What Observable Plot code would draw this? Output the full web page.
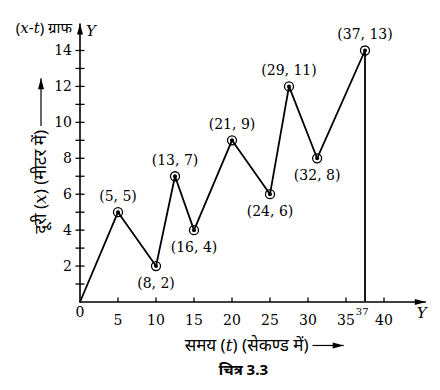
<!DOCTYPE html>
<html><head><meta charset="utf-8">
<script src="https://cdn.jsdelivr.net/npm/d3@7"></script>
<script src="https://cdn.jsdelivr.net/npm/@observablehq/plot@0.6"></script>
<style>body{margin:0;background:#fff}</style>
</head><body><div id="chart"></div>
<script>
// plotted positions (time t in s, distance x in m) and their printed labels
const tVals = [0, 5, 10, 12.5, 15, 20, 25, 27.5, 31.2, 37.5];
const xVals = [0, 5, 2, 7, 4, 9, 6, 12, 8, 14];
const pointLabels = ["", "(5, 5)", "(8, 2)", "(13, 7)", "(16, 4)", "(21, 9)", "(24, 6)", "(29, 11)", "(32, 8)", "(37, 13)"];
const yTicks = [1,2,3,4,5,6,7,8,9,10,11,12,13,14];
const yTickLabels = [2,4,6,8,10,12,14];
const xTicks = [5,10,15,20,25,30,35,40];
const xTickLabels = ["5","10","15","20","25","30","35","40"];
const extraXLabel = {t: 37, text: "37"};
const axisEnds = {t: 45.5, x: 15.5};
const titleText = "(x-t) ग्राफ";
const yAxisTitle = "दूरी (x) (मीटर में)";
const xAxisTitle = "समय (t) (सेकण्ड में)";
const captionText = "चित्र 3.3";
// decoration anchors in data units
const yTitleArrow = {t: -5.13, y1: 9.8, y2: 12.45};
const xTitleArrow = {y: -2.42, t1: 30.6, t2: 34.7};
const captionPos = {t: 21.5, y: -3.8};

const pts = tVals.map((t, i) => ({t, x: xVals[i], label: pointLabels[i]}));
const marked = pts.slice(1);
const above = marked.filter((d, i) => d.x > pts[i].x);
const below = marked.filter((d, i) => d.x <= pts[i].x);
const last = pts[pts.length - 1];

const serif = "'DejaVu Serif', serif";
const hindi = "'Noto Sans', 'DejaVu Sans', sans-serif";

// custom symbols (pixel sized)
const headUp = {draw(c){ c.moveTo(0,0); c.lineTo(3,11); c.lineTo(-3,11); c.closePath(); }};
const tickH = {draw(c){ c.moveTo(-4.5,0); c.lineTo(4.5,0); }};
const tickV = {draw(c){ c.moveTo(0,0); c.lineTo(0,-4.5); }};

const plot = Plot.plot({
  width: 440, height: 390,
  marginLeft: 79.5, marginRight: 56.5, marginTop: 50, marginBottom: 88.5,
  x: {domain: [0, 40], axis: null},
  y: {domain: [0, 14], axis: null},
  style: {background: "white", fontFamily: serif, fontSize: "14px", color: "black", overflow: "visible"},
  marks: [
    // axes
    Plot.link([{x1: 0, y1: 0, x2: axisEnds.t, y2: 0}, {x1: 0, y1: 0, x2: 0, y2: axisEnds.x}],
      {x1: "x1", y1: "y1", x2: "x2", y2: "y2", stroke: "black", strokeWidth: 1.6}),
    Plot.dot([{t: axisEnds.t, x: 0, r: 90}, {t: 0, x: axisEnds.x, r: 0}],
      {x: "t", y: "x", rotate: "r", symbol: headUp, fill: "black", stroke: "none", r: 5}),
    Plot.dot(yTicks, {x: 0, y: d => d, symbol: tickH, stroke: "black", strokeWidth: 1.3, fill: "none"}),
    Plot.dot(xTicks, {x: d => d, y: 0, symbol: tickV, stroke: "black", strokeWidth: 1.3, fill: "none"}),
    // tick labels
    Plot.text(yTickLabels, {x: 0, y: d => d, text: d => String(d), textAnchor: "end", dx: -8, fontSize: 14}),
    Plot.text(xTicks, {x: d => d, y: 0, text: (d, i) => xTickLabels[i], dy: 18.5, fontSize: 14}),
    Plot.text(["0"], {x: 0, y: 0, text: d => d, dy: 11, fontSize: 14}),
    Plot.text([extraXLabel], {x: "t", y: 0, text: "text", dy: 10, dx: 1, fontSize: 10}),
    Plot.text(["Y"], {x: 0, y: axisEnds.x, text: d => d, dx: 11, dy: 8, fontStyle: "italic", fontSize: 15}),
    Plot.text(["Y"], {x: axisEnds.t, y: 0, text: d => d, dx: -4, dy: 11, fontStyle: "italic", fontSize: 15}),
    Plot.text([titleText], {x: 0, y: axisEnds.x, text: d => d, textAnchor: "end", dx: -8, dy: 5, fontSize: 15, fontFamily: hindi}),
    // axis titles
    Plot.text([yAxisTitle], {x: yTitleArrow.t, y: yTitleArrow.y1, text: d => d, rotate: -90, textAnchor: "end", dy: 4, fontSize: 17, fontFamily: hindi}),
    Plot.link([yTitleArrow], {x1: "t", x2: "t", y1: "y1", y2: "y2", stroke: "black", strokeWidth: 1.2}),
    Plot.dot([yTitleArrow], {x: "t", y: "y2", symbol: headUp, fill: "black", stroke: "none", r: 5}),
    Plot.text([xAxisTitle], {x: xTitleArrow.t1, y: xTitleArrow.y, text: d => d, textAnchor: "end", dx: -4, fontSize: 17, fontFamily: hindi}),
    Plot.link([xTitleArrow], {x1: "t1", x2: "t2", y1: "y", y2: "y", stroke: "black", strokeWidth: 1.2}),
    Plot.dot([xTitleArrow], {x: "t2", y: "y", rotate: 90, symbol: headUp, fill: "black", stroke: "none", r: 5}),
    Plot.text([captionText], {x: captionPos.t, y: captionPos.y, text: d => d, fontSize: 15, fontWeight: "bold", fontFamily: hindi}),
    // data
    Plot.ruleX([last], {x: "t", y1: 0, y2: "x", stroke: "black", strokeWidth: 1.8}),
    Plot.line(pts, {x: "t", y: "x", stroke: "black", strokeWidth: 1.8}),
    Plot.dot(marked, {x: "t", y: "x", r: 4.5, stroke: "black", strokeWidth: 1.3, fill: "none"}),
    Plot.dot(marked, {x: "t", y: "x", r: 2, fill: "black", stroke: "none"}),
    Plot.text(above, {x: "t", y: "x", text: "label", dy: -16, fontSize: 14}),
    Plot.text(below, {x: "t", y: "x", text: "label", dy: 17, fontSize: 14})
  ]
});

// italicise the Latin variable letters x and t
d3.select(plot).selectAll("text").each(function() {
  const s = this.textContent;
  if (!/[xt]/.test(s) || this.querySelector("tspan")) return;
  const parts = s.split(/([xt])/);
  this.textContent = "";
  for (const p of parts) {
    if (!p) continue;
    const ts = document.createElementNS("http://www.w3.org/2000/svg", "tspan");
    ts.textContent = p;
    if (p === "x" || p === "t") { ts.setAttribute("font-style", "italic"); ts.setAttribute("font-family", serif); }
    this.appendChild(ts);
  }
});

document.getElementById("chart").appendChild(plot);
</script>
</body></html>
